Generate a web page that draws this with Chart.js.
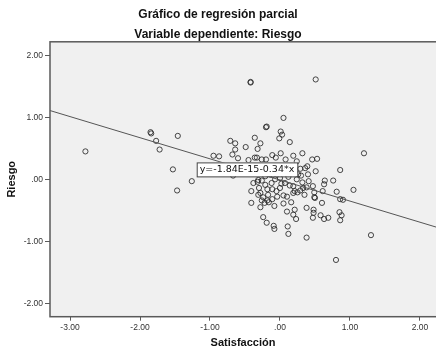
<!DOCTYPE html>
<html>
<head>
<meta charset="utf-8">
<script src="https://cdn.jsdelivr.net/npm/chart.js@4"></script>
<style>
    html, body { margin: 0; padding: 0; background: #ffffff; }
    #wrap { width: 436px; height: 350px; }
</style>
</head>
<body>
<div id="wrap"><canvas id="plot" width="436" height="350"></canvas></div>
<script>
// Residuals of Satisfacción (x) and Riesgo (y)
const SATISFACCION = [
    -2.78, -1.85, -1.84, -1.77, -1.46, -1.72, -1.53, -1.26, -1.47, -0.95, -0.87, -0.67,
    -0.42, -0.42, 0.51, 0.05, -0.20, -0.19, 0.01, 0.03, -0.01, 0.14, -0.71, -0.64,
    -0.36, -0.28, -0.49, -0.32, -0.64, -0.68, -0.60, -0.11, 0.01, -0.06, 0.08, 0.19,
    0.32, 0.46, 0.53, 0.24, -0.45, -0.26, -0.20, 1.20,
    0.29, 0.39, 0.86, 0.51, 0.30, 0.40, 0.76, 0.64, 0.63, 0.32, 0.47, 0.38,
    0.29, 0.35, 0.49, 0.49, 0.61, 0.81, 1.05, 0.86, 0.90, 0.60, 0.38, 0.48,
    0.48, 0.47, 0.58, 0.63, 0.69, 0.85, 0.88, 0.86, 1.30, 0.38, 0.80,
    -0.41, -0.38, -0.32, -0.26, -0.21, -0.30, -0.28, -0.31, -0.24, -0.17, -0.18, -0.11,
    -0.26, -0.22, -0.08, -0.28, -0.16, -0.05, -0.04, -0.11, -0.18, 0.00, 0.07, 0.02,
    -0.12, -0.07, 0.00, 0.05, 0.10, 0.19, 0.21, 0.25, 0.14, 0.19, 0.05, 0.16,
    0.21, 0.10, 0.19, 0.23, -0.24, -0.19, -0.09, -0.08, 0.11, 0.12, 0.24, 0.26,
    0.21, 0.33, 0.41, 0.50, -0.41, -0.36, -0.33, -0.14, -0.07, -0.21, 0.12, -0.31,
    0.36, -0.03
];
const RIESGO = [
    0.46, 0.77, 0.75, 0.63, 0.71, 0.49, 0.17, -0.02, -0.17, 0.39, 0.38, 0.07,
    1.57, 1.58, 1.62, 1.00, 0.85, 0.86, 0.78, 0.73, 0.67, 0.61, 0.63, 0.59,
    0.68, 0.59, 0.53, 0.50, 0.49, 0.41, 0.35, 0.40, 0.43, 0.36, 0.33, 0.39,
    0.43, 0.33, 0.34, 0.30, 0.32, 0.33, 0.33, 0.43,
    0.18, 0.22, 0.16, 0.14, 0.07, 0.09, -0.01, -0.01, -0.07, -0.04, -0.10, -0.12,
    -0.17, -0.24, -0.20, -0.28, -0.18, -0.19, -0.16, -0.31, -0.32, -0.37, -0.45, -0.48,
    -0.53, -0.61, -0.57, -0.63, -0.61, -0.52, -0.57, -0.65, -0.89, -0.93, -1.29,
    -0.37, -0.05, -0.03, -0.01, -0.08, -0.13, -0.21, -0.24, -0.28, -0.24, -0.33, -0.31,
    -0.33, -0.37, -0.42, -0.44, -0.36, -0.18, -0.27, -0.15, -0.15, -0.13, -0.05, -0.06,
    -0.05, 0.01, 0.03, -0.25, -0.27, -0.21, -0.18, -0.20, -0.09, -0.10, -0.38, -0.36,
    -0.48, -0.51, -0.56, -0.63, -0.60, -0.69, -0.74, -0.79, -0.75, -0.87, 0.01, 0.09,
    0.18, -0.13, -0.02, -0.29, -0.18, 0.36, 0.36, 0.09, 0.11, 0.06, 0.05, 0.00,
    0.19, 0.14
];

// Fit line y = -1.84E-15 - 0.34*x, end points at the plot edges
const FIT_X = [-3.29, 2.23];
const FIT_Y = [1.12, -0.76];
const FIT_LABEL = "y=-1.84E-15-0.34*x";

const X_TICKS = [-3, -2, -1, 0, 1, 2];
const Y_TICKS = [-2, -1, 0, 1, 2];

const INK = "#333333";
const FRAME = "#5a5a5a";
const FONT = "'Liberation Sans', Arial, sans-serif";

function fmt(v) {
    // SPSS style: ".00" for zero, no leading zero
    return v === 0 ? ".00" : v.toFixed(2);
}

const plotFrame = {
    id: "plotFrame",
    beforeDatasetsDraw(chart) {
        const { ctx, chartArea: a } = chart;
        ctx.save();
        ctx.fillStyle = "#f0f0f0";
        ctx.fillRect(a.left, a.top, a.right - a.left, a.bottom - a.top);
        ctx.restore();
    },
    afterDatasetsDraw(chart) {
        const { ctx, chartArea: a, scales } = chart;
        ctx.save();
        ctx.strokeStyle = FRAME;
        ctx.lineWidth = 1.5;
        ctx.strokeRect(a.left, a.top, a.right - a.left + 4, a.bottom - a.top);

        // equation box sitting on the fit line
        const x0 = scales.x.getPixelForValue(-1.19);
        const yc = scales.y.getPixelForValue(0.17);
        ctx.font = "9.5px 'DejaVu Sans', sans-serif";
        const w = ctx.measureText(FIT_LABEL).width + 6;
        const h = 14;
        ctx.fillStyle = "#ffffff";
        ctx.fillRect(x0, yc - h / 2, w, h);
        ctx.strokeStyle = "#444444";
        ctx.lineWidth = 1;
        ctx.strokeRect(x0 + 0.5, yc - h / 2 + 0.5, w, h);
        ctx.fillStyle = "#111111";
        ctx.textBaseline = "middle";
        ctx.fillText(FIT_LABEL, x0 + 3, yc + 0.5);
        ctx.restore();
    }
};

new Chart(document.getElementById("plot").getContext("2d"), {
    type: "scatter",
    data: {
        datasets: [
            {
                label: "Fit",
                type: "line",
                data: FIT_X.map((x, i) => ({ x: x, y: FIT_Y[i] })),
                borderColor: "#555555",
                borderWidth: 1,
                pointRadius: 0,
                fill: false
            },
            {
                label: "Riesgo",
                data: SATISFACCION.map((x, i) => ({ x: x, y: RIESGO[i] })),
                pointRadius: 2.6,
                pointBorderWidth: 1,
                pointBorderColor: "rgba(40,40,40,0.85)",
                pointBackgroundColor: "rgba(0,0,0,0)"
            }
        ]
    },
    options: {
        responsive: false,
        animation: false,
        layout: { autoPadding: false, padding: 0 },
        plugins: {
            legend: { display: false },
            tooltip: { enabled: false },
            title: {
                display: true,
                text: "Gráfico de regresión parcial",
                color: "#111111",
                font: { family: FONT, size: 12, weight: "bold" },
                padding: { top: 7, bottom: 6 }
            },
            subtitle: {
                display: true,
                text: "Variable dependiente: Riesgo",
                color: "#111111",
                font: { family: FONT, size: 12, weight: "bold" },
                padding: { top: 0, bottom: 0 }
            }
        },
        scales: {
            x: {
                type: "linear",
                min: -3.286,
                max: 2.229,
                afterBuildTicks: axis => { axis.ticks = X_TICKS.map(v => ({ value: v })); },
                afterFit: axis => {
                    axis.height = 33.3;
                    axis.paddingLeft = 0;
                    axis.paddingRight = 0;
                },
                border: { display: false },
                grid: { drawOnChartArea: false, drawTicks: true, tickLength: 4, color: FRAME, lineWidth: 1 },
                ticks: {
                    color: INK,
                    padding: 2,
                    font: { family: FONT, size: 8.5 },
                    callback: v => fmt(v)
                },
                title: {
                    display: true,
                    text: "Satisfacción",
                    color: "#111111",
                    font: { family: FONT, size: 11, weight: "bold" },
                    padding: { top: 0, bottom: 0 }
                }
            },
            y: {
                type: "linear",
                min: -2.205,
                max: 2.227,
                afterBuildTicks: axis => { axis.ticks = Y_TICKS.map(v => ({ value: v })); },
                afterFit: axis => {
                    axis.width = 50;
                    axis.paddingTop = 0;
                    axis.paddingBottom = 0;
                },
                border: { display: false },
                grid: { drawOnChartArea: false, drawTicks: true, tickLength: 5, color: FRAME, lineWidth: 1 },
                ticks: {
                    color: INK,
                    padding: 2,
                    font: { family: FONT, size: 8.5 },
                    callback: v => fmt(v)
                },
                title: {
                    display: true,
                    text: "Riesgo",
                    color: "#111111",
                    font: { family: FONT, size: 11, weight: "bold" },
                    padding: { top: 5, bottom: 0 }
                }
            }
        }
    },
    plugins: [plotFrame]
});
</script>
</body>
</html>
